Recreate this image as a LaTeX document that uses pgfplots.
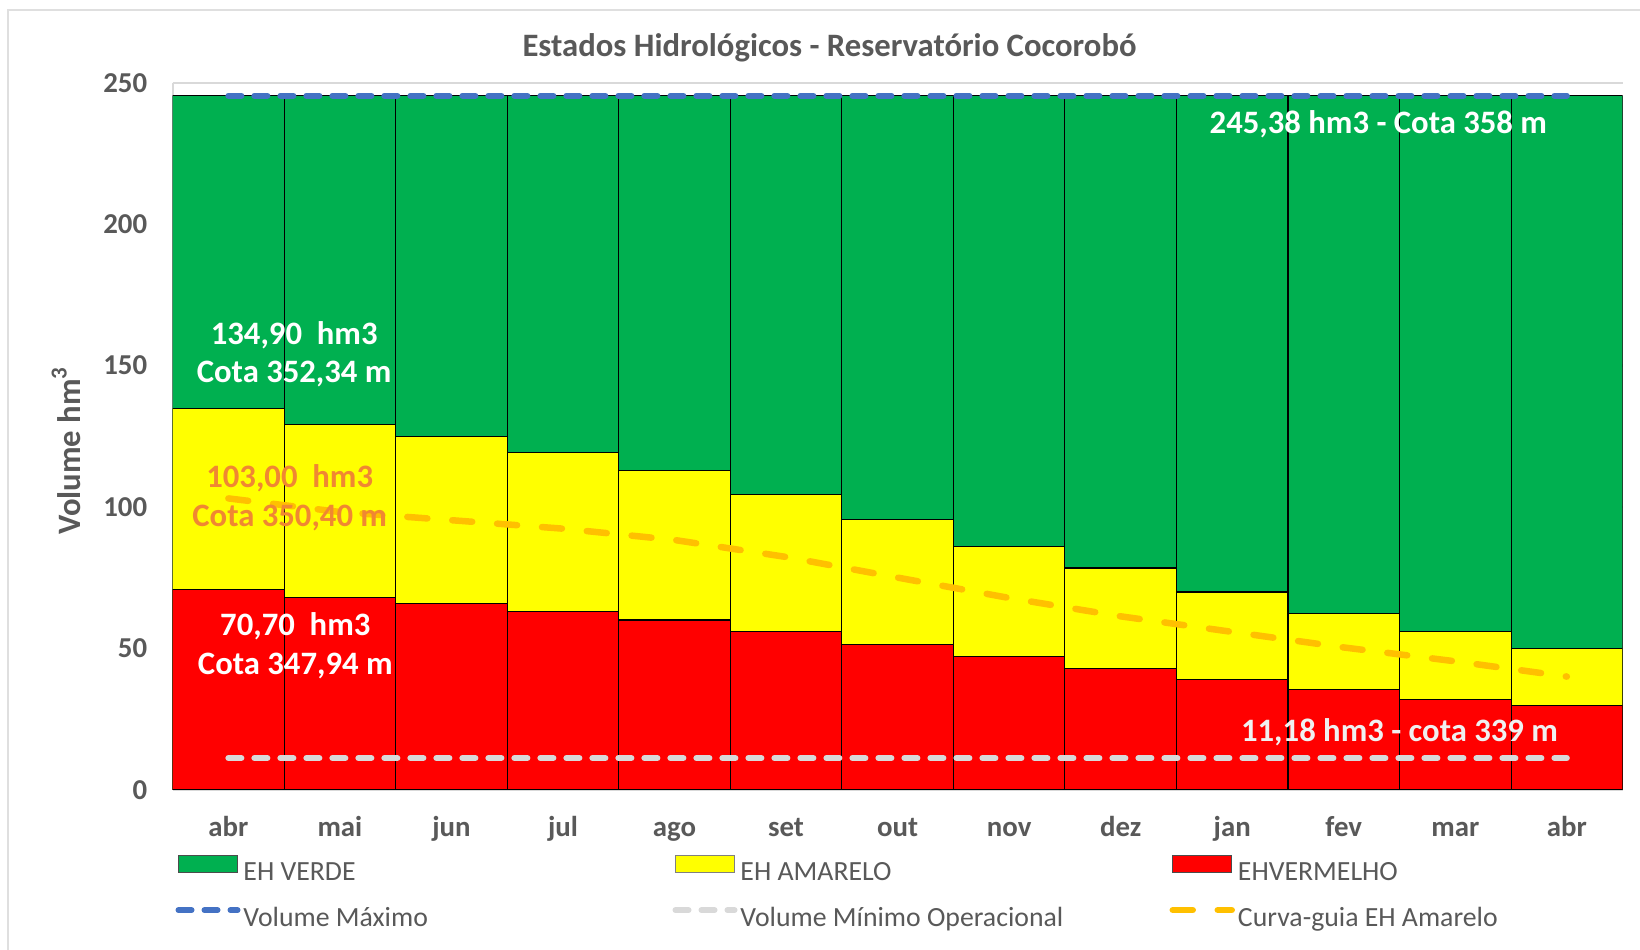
\documentclass[border=0pt]{standalone}
\usepackage{pgfplots}
\pgfplotsset{compat=1.18}
\usepackage{pgfplotstable}
\usepackage{fontspec}
\setmainfont{Carlito}
\definecolor{cgreen}{HTML}{00B050}
\definecolor{cyellow}{HTML}{FFFF00}
\definecolor{cred}{HTML}{FF0000}
\definecolor{cblue}{HTML}{4472C4}
\definecolor{cgray}{HTML}{D9D9D9}
\definecolor{corange}{HTML}{FFC000}
\definecolor{ctext}{HTML}{595959}
\definecolor{clab}{RGB}{240,135,50}
\pgfplotsset{
  barleg/.style={legend image code/.code={\draw[##1] (0cm,0cm) rectangle (0.59cm,0.17cm);}},
  lineleg/.style={legend image code/.code={\draw[##1] (0cm,0.085cm) -- (0.59cm,0.085cm);}},
}
\pgfplotstableread{
x red amarelo total curva vmax vmin
0  70.70 134.90 245.38 103.0 245.38 11.18
1  67.8  129.3  245.38 98.2  245.38 11.18
2  65.9  125.0  245.38 95.3  245.38 11.18
3  63.0  119.4  245.38 92.3  245.38 11.18
4  60.0  112.8  245.38 88.3  245.38 11.18
5  56.0  104.5  245.38 82.3  245.38 11.18
6  51.5  95.4   245.38 75.0  245.38 11.18
7  47.2  86.1   245.38 67.8  245.38 11.18
8  43.0  78.4   245.38 61.3  245.38 11.18
9  38.9  69.9   245.38 55.8  245.38 11.18
10 35.3  62.2   245.38 50.3  245.38 11.18
11 32.0  55.8   245.38 45.4  245.38 11.18
12 29.7  50.0   245.38 40.0  245.38 11.18
}\data
\begin{document}
\begin{tikzpicture}
\useasboundingbox (0,0) rectangle (16.4,9.5);
\fill[white] (0,0) rectangle (16.4,9.5);
\draw[gray!25, line width=0.02cm] (0.084,0) -- (0.084,9.395) -- (16.4,9.395);
\node[font=\bfseries\fontsize{9.3}{11}\selectfont, text=ctext] at (8.295,9.02) {Estados Hidrológicos - Reservatório Cocorobó};
\begin{axis}[
  at={(1.726cm,1.603cm)}, anchor=south west,
  scale only axis, width=14.50cm, height=7.07cm,
  xmin=-0.5, xmax=12.5, ymin=0, ymax=250,
  axis x line*=bottom, axis y line*=left,
  axis line style={cgray, line width=0.6pt, -},
  major tick length=0pt,
  ytick={0,50,...,250},
  xtick={0,...,12},
  xticklabels={abr,mai,jun,jul,ago,set,out,nov,dez,jan,fev,mar,abr},
  ymajorgrids, grid style={cgray, line width=0.6pt},
  /pgf/number format/assume math mode=true,
  ticklabel style={font=\bfseries\fontsize{8.2}{10}\selectfont, text=ctext},
  yticklabel style={xshift=-0.13cm},
  xticklabel style={yshift=-0.08cm, text height=1.6ex, text depth=0.4ex},
  ylabel={Volume hm\textsuperscript{3}},
  ylabel style={at={(axis description cs:-0.0735,0.48)}, anchor=center, font=\bfseries\fontsize{9.3}{11}\selectfont, text=ctext},
  legend columns=3,
  legend style={at={(axis description cs:0.002,-0.1465)}, anchor=west, draw=none, fill=none,
    inner sep=0pt, outer sep=0pt, font=\fontsize{7.9}{9.5}\selectfont, text=ctext, row sep=0.2cm,
    nodes={inner sep=0pt, text width=4.29cm, align=flush left, text height=0.21cm, text depth=0.05cm},
    /tikz/every odd column/.style={column sep=0.03cm}},
]
\addplot[ybar, bar width=1, bar shift=0pt, fill=cgreen, draw=black, line width=0.3pt, forget plot] table[x=x, y=total]{\data};
\addplot[ybar, bar width=1, bar shift=0pt, fill=cyellow, draw=black, line width=0.3pt, forget plot] table[x=x, y=amarelo]{\data};
\addplot[ybar, bar width=1, bar shift=0pt, fill=cred, draw=black, line width=0.3pt, forget plot] table[x=x, y=red]{\data};
\addplot[sharp plot, no marks, cblue, line width=0.06cm, line cap=round, dash pattern=on 0.13cm off 0.13cm, forget plot] table[x=x, y=vmax]{\data};
\addplot[sharp plot, no marks, cgray, line width=0.06cm, line cap=round, dash pattern=on 0.13cm off 0.13cm, forget plot] table[x=x, y=vmin]{\data};
\addplot[sharp plot, no marks, corange, line width=0.065cm, line cap=round, dash pattern=on 0.2cm off 0.25cm, forget plot] table[x=x, y=curva]{\data};
\addlegendimage{barleg, fill=cgreen, draw=black!70, line width=0.4pt}
\addlegendentry{EH VERDE}
\addlegendimage{barleg, fill=cyellow, draw=black!50, line width=0.4pt}
\addlegendentry{EH AMARELO}
\addlegendimage{barleg, fill=cred, draw=black!70, line width=0.4pt}
\addlegendentry{EHVERMELHO}
\addlegendimage{lineleg, cblue, line width=0.06cm, line cap=round, dash pattern=on 0.13cm off 0.13cm}
\addlegendentry{Volume Máximo}
\addlegendimage{lineleg, cgray, line width=0.06cm, line cap=round, dash pattern=on 0.13cm off 0.13cm}
\addlegendentry{Volume Mínimo Operacional}
\addlegendimage{lineleg, corange, line width=0.065cm, line cap=round, dash pattern=on 0.2cm off 0.25cm}
\addlegendentry{Curva-guia EH Amarelo}
\node[font=\bfseries\fontsize{9.3}{11}\selectfont, text=white, align=center] at (axis cs:0.59,154) {134,90~\ hm3\\Cota 352,34 m};
\node[font=\bfseries\fontsize{9.3}{11}\selectfont, text=clab, align=center] at (axis cs:0.55,103.2) {103,00~\ hm3\\Cota 350,40 m};
\node[font=\bfseries\fontsize{9.3}{11}\selectfont, text=white, align=center] at (axis cs:0.6,51) {70,70~\ hm3\\Cota 347,94 m};
\node[font=\bfseries\fontsize{9.3}{11}\selectfont, text=white] at (axis cs:10.31,235.2) {245,38 hm3 - Cota 358 m};
\node[font=\bfseries\fontsize{9.3}{11}\selectfont, text=gray!12] at (axis cs:10.5,20.3) {11,18 hm3 - cota 339 m};
\end{axis}
\end{tikzpicture}
\end{document}
